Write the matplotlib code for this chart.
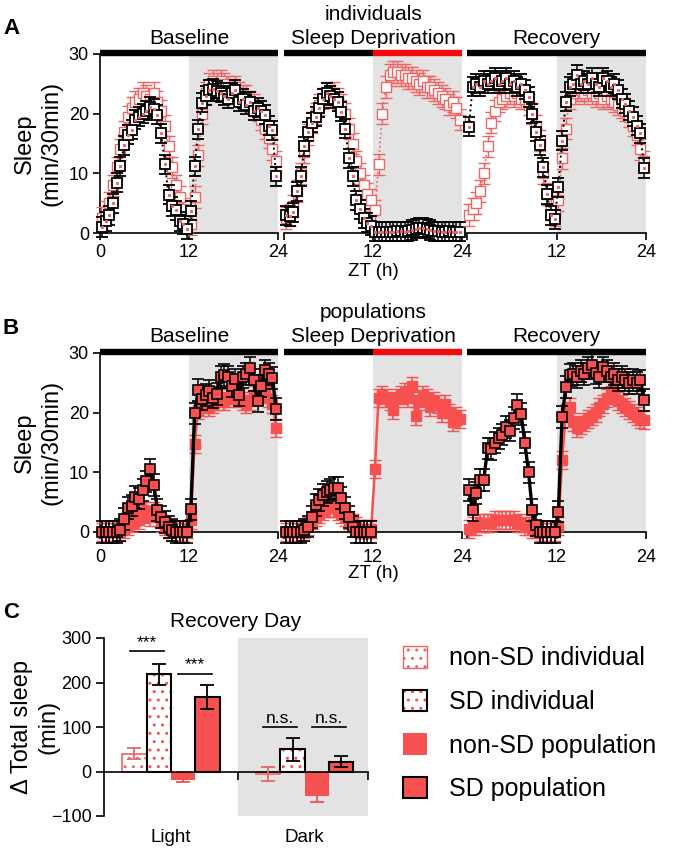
import matplotlib.pyplot as plt
from matplotlib.patches import Patch

plt.rcParams['font.family'] = ['Liberation Sans', 'DejaVu Sans']
plt.rcParams['hatch.linewidth'] = 1.0

W, H = 681, 851
RED = '#f65050'
RED_IND = '#ef6464'
BAR_RED = '#f40a0a'
GRAY = '#e3e3e3'
nan = float('nan')

# 30-min bins, ZT hours
zt = [0.25 + 0.5 * i for i in range(48)]
day_names = ['Baseline', 'Sleep Deprivation', 'Recovery']

# A: individuals (min/30min)
ind_ctrl_base = [2.5, 3.5, 5.0, 8.0, 11.0, 14.0, 17.0, 19.5, 21.0, 22.0,
                 22.5, 23.5, 23.0, 22.5, 23.5, 22.0, 20.5, 18.0, 14.5, 11.0,
                 8.0, 6.0, 4.0, 2.0, 1.5, 6.0, 13.0, 20.0, 23.5, 25.0,
                 25.5, 25.0, 25.5, 25.0, 24.5, 24.0, 24.5, 23.5, 23.0, 23.0,
                 22.0, 21.5, 20.5, 19.0, 17.5, 16.0, 14.0, 12.0]
ind_sd_base = [1.0, 2.0, 3.0, 5.0, 8.4, 11.2, 14.7, 16.5, 17.3, 19.0,
               19.5, 20.0, 20.5, 21.2, 20.8, 19.8, 16.7, 11.5, 6.4, 4.5,
               3.8, 2.0, 1.5, 0.6, 3.7, 11.2, 17.4, 21.8, 23.0, 24.0,
               24.2, 23.8, 23.5, 23.0, 22.5, 23.5, 24.0, 22.0, 22.5, 21.5,
               22.0, 20.5, 21.0, 20.5, 19.8, 18.0, 17.2, 9.5]
ind_ctrl_sd = [2.5, 3.0, 4.5, 7.0, 10.0, 13.5, 16.5, 18.5, 20.0, 21.5,
               22.5, 23.5, 23.0, 23.5, 22.5, 21.5, 20.0, 17.5, 15.0, 12.0,
               10.0, 8.0, 6.5, 5.5, 3.8, 11.5, 20.0, 24.5, 26.5, 27.0,
               27.0, 26.5, 26.5, 26.0, 26.0, 25.5, 25.0, 25.5, 24.5, 24.5,
               24.0, 23.5, 23.0, 22.5, 21.5, 22.0, 21.0, 19.0]
ind_sd_sd = [3.0, 2.8, 3.5, 7.0, 9.5, 14.5, 17.0, 18.5, 19.5, 21.0,
             22.5, 23.5, 23.0, 22.5, 22.0, 20.3, 17.5, 12.5, 9.5, 5.5,
             4.0, 2.5, 1.7, 1.2, 0.2, 0.2, 0.2, 0.2, 0.2, 0.2,
             0.3, 0.3, 0.2, 0.3, 0.5, 0.7, 0.9, 0.9, 0.7, 0.5,
             0.3, 0.3, 0.2, 0.2, 0.3, 0.2, 0.2, 0.2]
ind_ctrl_rec = [3.0, 4.0, 5.0, 7.0, 10.0, 14.5, 18.5, 20.5, 22.0, 22.5,
                23.0, 23.5, 23.0, 23.5, 22.5, 22.5, 21.5, 20.0, 18.0, 15.5,
                10.0, 6.5, 4.0, 3.0, 5.5, 12.5, 17.5, 22.5, 23.5, 24.0,
                24.0, 23.5, 24.0, 23.5, 23.0, 23.5, 22.5, 23.0, 22.5, 22.0,
                21.5, 21.0, 20.5, 19.5, 18.0, 16.5, 14.0, 12.0]
ind_sd_rec = [17.8, 24.5, 25.0, 24.5, 25.5, 25.0, 25.5, 26.0, 25.0, 25.5,
              26.0, 25.0, 25.5, 24.5, 25.0, 24.0, 22.8, 20.0, 17.0, 14.7,
              11.0, 6.5, 3.0, 2.3, 7.7, 15.5, 22.0, 24.5, 25.0, 26.5,
              25.0, 25.5, 25.0, 26.0, 25.0, 24.5, 26.0, 25.5, 24.5, 25.0,
              24.0, 22.5, 21.7, 20.5, 19.5, 18.0, 16.7, 10.9]

# B: populations (min/30min)
pop_ctrl_base = [0, 0, 0, 0, 0, 0, 0.5, 1.0, 1.5, 2.5,
                 2.0, 3.0, 3.5, 2.5, 3.5, 2.5, 1.5, 1.0, 0.5, 0,
                 0, 0, 0, 0.5, 2.0, 14.8, 20.5, 21.0, 21.5, 21.0,
                 21.5, 22.0, 22.5, 22.0, 22.5, 23.0, 23.0, 22.5, 22.0, 21.5,
                 22.0, 23.0, 24.0, 23.5, 24.0, 22.5, 21.5, 17.5]
pop_sd_base = [0, 0, 0, 0, 0, 0.3, 2.2, 4.0, 4.4, 5.9,
               5.6, 7.0, 8.5, 10.5, 7.9, 3.7, 2.5, 1.7, 0.8, 0.3,
               0, 0, 0, 0, 3.8, 19.9, 23.8, 22.3, 23.0, 23.6,
               22.5, 23.1, 26.0, 26.3, 26.0, 24.5, 25.6, 23.0, 26.0, 26.5,
               27.5, 25.5, 21.9, 24.5, 27.1, 26.5, 25.8, 20.6]
pop_ctrl_sd = [0, 0, 0, 0, 0, 0.5, 1.0, 2.0, 2.5, 3.0,
               3.5, 4.0, 4.0, 4.0, 3.5, 3.0, 2.5, 2.0, 1.5, 1.0,
               0.5, 0.5, 0.5, 0.5, 10.5, 22.5, 23.0, 22.5, 22.0, 20.5,
               22.5, 23.0, 23.5, 22.5, 24.5, 19.5, 22.0, 23.0, 22.5, 21.0,
               22.0, 21.5, 20.0, 21.5, 20.0, 18.5, 19.5, 19.0]
pop_sd_sd = [0, 0, 0, 0, 0, 0.3, 0.9, 2.5, 4.5, 5.4,
             6.2, 6.7, 7.0, 7.4, 7.4, 5.7, 4.0, 2.5, 0.9, 0,
             0, 0, 0, 0] + [nan] * 24
pop_ctrl_rec = [0.5, 1.0, 1.0, 1.5, 1.5, 1.5, 1.5, 2.0, 2.0, 2.0,
                2.0, 2.0, 2.0, 1.5, 1.5, 1.0, 1.0, 0.5, 0.5, 0,
                0, 0, 0, 0, 1.0, 12.0, 20.0, 21.0, 18.5, 17.5,
                18.0, 18.5, 19.0, 19.5, 20.0, 21.0, 21.5, 22.5, 23.0, 23.5,
                22.0, 21.5, 21.0, 20.5, 20.0, 19.5, 19.0, 18.8]
pop_sd_rec = [7.0, 3.7, 6.5, 8.7, 8.7, 14.0, 13.9, 15.0, 15.7, 16.3,
              17.6, 17.0, 19.1, 21.3, 19.8, 15.0, 10.0, 3.7, 1.2, 0,
              0, 0, 0, 0, 3.4, 19.3, 24.3, 26.3, 26.5, 26.0,
              27.0, 26.5, 27.5, 28.0, 26.6, 26.0, 27.6, 27.0, 26.0, 26.5,
              25.5, 26.0, 25.5, 25.0, 25.5, 25.0, 25.4, 22.1]

ind_ctrl_sem, ind_sd_sem = 1.8, 1.6
pop_ctrl_sem, pop_sd_sem = 1.5, 1.8

# C: recovery day change in total sleep (min), [Light, Dark]
groups = ['Light', 'Dark']
legend_labels = ['non-SD individual', 'SD individual', 'non-SD population', 'SD population']
delta_ctrl_ind = [40, -6]
delta_sd_ind = [218, 50]
delta_ctrl_pop = [-19, -54]
delta_sd_pop = [167, 22]
err_ctrl_ind = [13, 15]
err_sd_ind = [23, 26]
err_ctrl_pop = [5, 15]
err_sd_pop = [27, 13]

fig = plt.figure(figsize=(W / 100, H / 100), dpi=100)


def px_axes(x0, y0, x1, y1):
    return fig.add_axes([x0 / W, 1 - y1 / H, (x1 - x0) / W, (y1 - y0) / H])


def ftext(x, y, s, **kw):
    fig.text(x / W, 1 - y / H, s, ha='center', va='center', **kw)


def unclip(cont):
    for a in cont.get_children():
        a.set_clip_on(False)


day_px = [(100, 278), (284, 462), (467, 646)]


def day_axes(top, bottom, k, pad):
    ax = px_axes(day_px[k][0], top, day_px[k][1], bottom)
    ax.set_xlim(0, 24)
    ax.set_ylim(0, 30)
    ax.axvspan(12, 24, color=GRAY, lw=0, zorder=0)
    for s in ['top', 'right']:
        ax.spines[s].set_visible(False)
    ax.spines['bottom'].set_linewidth(1.2)
    ax.spines['left'].set_linewidth(1.2)
    ax.set_xticks([0, 12, 24])
    ax.set_xticklabels(['0' if k == 0 else '', '12', '24'])
    ax.tick_params(direction='out', length=5, width=1.2, pad=3, labelsize=13)
    ax.tick_params(axis='x', pad=pad)
    if k == 0:
        ax.set_yticks([0, 10, 20, 30])
    else:
        ax.spines['left'].set_visible(False)
        ax.tick_params(left=False, labelleft=False)
    bar_kw = dict(lw=4.6, solid_capstyle='butt', clip_on=False, zorder=6)
    if k == 1:
        ax.plot([0, 12], [30.25, 30.25], color='black', **bar_kw)
        ax.plot([12, 24], [30.25, 30.25], color=BAR_RED, **bar_kw)
    else:
        ax.plot([0, 24], [30.25, 30.25], color='black', **bar_kw)
    return ax


# ---- panel A: individuals
ind_ctrl = [ind_ctrl_base, ind_ctrl_sd, ind_ctrl_rec]
ind_sd = [ind_sd_base, ind_sd_sd, ind_sd_rec]
for k in range(3):
    ax = day_axes(54, 233, k, 3)
    c = ax.errorbar(zt, ind_ctrl[k], yerr=ind_ctrl_sem, marker='s', ls=':', lw=1.2,
                    color=RED_IND, mfc='white', mec=RED_IND, ms=6.5, mew=1.0,
                    ecolor=RED_IND, elinewidth=1.0, capsize=4.5, capthick=1.0, zorder=3)
    unclip(c)
    c = ax.errorbar(zt, ind_sd[k], yerr=ind_sd_sem, marker='s', ls=':', lw=1.4,
                    color='black', mfc='white', mec='black', ms=6.5, mew=1.3,
                    ecolor='black', elinewidth=1.1, capsize=4.5, capthick=1.1, zorder=4)
    unclip(c)
    ax.plot(zt, ind_sd[k], ls='none', marker='s', ms=1.2, color=RED_IND, zorder=5, clip_on=False)
    if k == 0:
        ax.set_ylabel('Sleep\n(min/30min)', fontsize=17, linespacing=1.25)
        ax.yaxis.set_label_coords(-0.21, 0.5)

# ---- panel B: populations
pop_ctrl = [pop_ctrl_base, pop_ctrl_sd, pop_ctrl_rec]
pop_sd = [pop_sd_base, pop_sd_sd, pop_sd_rec]
for k in range(3):
    ax = day_axes(353, 532, k, 7)
    c = ax.errorbar(zt, pop_ctrl[k], yerr=pop_ctrl_sem, marker='s', ls='-', lw=1.8,
                    color=RED, mfc=RED, mec=RED, ms=6.5, mew=1.0,
                    ecolor=RED, elinewidth=1.2, capsize=4.5, capthick=1.2, zorder=3)
    unclip(c)
    c = ax.errorbar(zt, pop_sd[k], yerr=pop_sd_sem, marker='s', ls='-', lw=2.4,
                    color='black', mfc=RED, mec='black', ms=6.5, mew=1.2,
                    ecolor='black', elinewidth=1.1, capsize=4.5, capthick=1.1, zorder=4)
    unclip(c)
    if k == 0:
        ax.set_ylabel('Sleep\n(min/30min)', fontsize=17, linespacing=1.25)
        ax.yaxis.set_label_coords(-0.21, 0.5)

# titles
for top, sub in [(38, 'individuals'), (337, 'populations')]:
    for k, name in enumerate(day_names):
        ftext((day_px[k][0] + day_px[k][1]) / 2, top, name, fontsize=15)
    ftext(373, top - 24, sub, fontsize=15)
ftext(373, 271, 'ZT (h)', fontsize=13.5)
ftext(373, 574, 'ZT (h)', fontsize=13.5)
for lab, y in [('A', 28), ('B', 328), ('C', 612)]:
    fig.text(3 / W, 1 - y / H, lab, fontsize=16, fontweight='bold', va='center', ha='left')

# ---- panel C: bars
axc = px_axes(104, 638, 368, 816)
axc.set_xlim(-1.25, 9.6)
axc.set_ylim(-100, 300)
axc.axvspan(4.25, 9.6, color=GRAY, lw=0, zorder=0)
centers = [1.5, 7.0]
offsets = [-1.5, -0.5, 0.5, 1.5]
series = [
    (delta_ctrl_ind, err_ctrl_ind, dict(color='white', edgecolor=RED_IND, hatch='..', lw=1.2), RED_IND),
    (delta_sd_ind, err_sd_ind, dict(color='white', edgecolor=RED, hatch='..', lw=0), 'black'),
    (delta_ctrl_pop, err_ctrl_pop, dict(color=RED, lw=0), RED),
    (delta_sd_pop, err_sd_pop, dict(color=RED, edgecolor='black', lw=1.5), 'black'),
]
for j, (vals, errs, kw, ecol) in enumerate(series):
    xs = [c + offsets[j] for c in centers]
    axc.bar(xs, vals, width=1.0, zorder=2, **kw)
    if j == 1:
        axc.bar(xs, vals, width=1.0, facecolor='none', edgecolor='black', lw=1.5, zorder=3)
    axc.errorbar(xs, vals, yerr=errs, fmt='none', ecolor=ecol, elinewidth=1.3,
                 capsize=5, capthick=1.3, zorder=4)

for s in ['top', 'right']:
    axc.spines[s].set_visible(False)
axc.spines['bottom'].set_position(('data', 0))
axc.spines['bottom'].set_linewidth(1.2)
axc.spines['left'].set_linewidth(1.2)
axc.set_xticks([4.25, 9.6])
axc.set_xticklabels([])
axc.set_yticks([-100, 0, 100, 200, 300])
axc.tick_params(direction='out', length=6, width=1.2, pad=3, labelsize=13)
axc.set_ylabel('\u0394 Total sleep\n(min)', fontsize=17, linespacing=1.25)
axc.yaxis.set_label_coords(-0.17, 0.5)
for c, g in zip(centers, groups):
    axc.text(c, -148, g, ha='center', va='center', fontsize=13.5)
axc.set_title('Recovery Day', fontsize=15, pad=8)

# significance marks
sig = [(centers[0] + offsets[0], centers[0] + offsets[1], 270, '***'),
       (centers[0] + offsets[2], centers[0] + offsets[3], 220, '***'),
       (centers[1] + offsets[0], centers[1] + offsets[1], 100, 'n.s.'),
       (centers[1] + offsets[2], centers[1] + offsets[3], 100, 'n.s.')]
for x0, x1, y, t in sig:
    axc.plot([x0 - 0.2, x1 + 0.2], [y, y], color='black', lw=1.2)
    axc.text((x0 + x1) / 2, y + 3, t, ha='center', va='bottom', fontsize=12.5)

# legend
handles = [
    Patch(facecolor='white', edgecolor=RED_IND, hatch='..', lw=1.0),
    (Patch(facecolor='white', edgecolor=RED, hatch='..', lw=0),
     Patch(facecolor='none', edgecolor='black', lw=1.5)),
    Patch(facecolor=RED, edgecolor='none'),
    Patch(facecolor=RED, edgecolor='black', lw=1.5),
]
fig.legend(handles, legend_labels, loc='upper left', bbox_to_anchor=(403 / W, 1 - 646 / H),
           frameon=False, fontsize=18, handlelength=0.95, handleheight=0.95,
           handletextpad=0.9, labelspacing=0.77, borderpad=0, borderaxespad=0)

fig.savefig('out.png', dpi=100)
